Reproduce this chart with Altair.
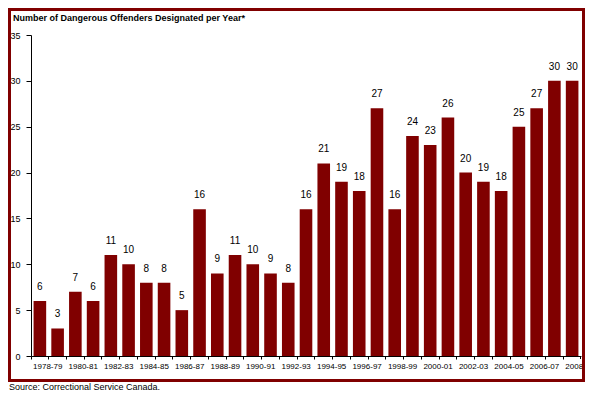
import altair as alt
import pandas as pd

years = ["1978-79", "1979-80", "1980-81", "1981-82", "1982-83", "1983-84", "1984-85",
         "1985-86", "1986-87", "1987-88", "1988-89", "1989-90", "1990-91", "1991-92",
         "1992-93", "1993-94", "1994-95", "1995-96", "1996-97", "1997-98", "1998-99",
         "1999-00", "2000-01", "2001-02", "2002-03", "2003-04", "2004-05", "2005-06",
         "2006-07", "2007-08", "2008-09"]
offenders = [6, 3, 7, 6, 11, 10, 8, 8, 5, 16, 9, 11, 10, 9, 8, 16, 21, 19, 18, 27,
             16, 24, 23, 26, 20, 19, 18, 25, 27, 30, 30]
y_ticks = [0, 5, 10, 15, 20, 25, 30, 35]

title_text = "Number of Dangerous Offenders Designated per Year*"
source_text = "Source: Correctional Service Canada."

df = pd.DataFrame({"year": years, "value": offenders})

W, H = 550, 321
step = W / len(years)
RED = "#800000"
FONT = "Liberation Sans"

x_enc = alt.X("year:N", sort=None, title=None,
              scale=alt.Scale(paddingInner=0, paddingOuter=0),
              axis=alt.Axis(bandPosition=0, labelOffset=step / 2 - 1, labelAngle=0,
                            labelOverlap=False, labelFlush=False,
                            labelExpr="toNumber(substring(datum.value,0,4)) % 2 === 0 ? datum.value : ''",
                            tickSize=3, labelPadding=3, labelFontSize=8,
                            domainColor="black", tickColor="black", labelColor="black",
                            labelFont=FONT))
y_enc = alt.Y("value:Q", title=None,
              scale=alt.Scale(domain=[0, 35], nice=False),
              axis=alt.Axis(values=y_ticks, grid=False, tickSize=5, labelPadding=6,
                            labelFontSize=9, domainColor="black", tickColor="black",
                            labelColor="black", labelFont=FONT))

base = alt.Chart(df)
bars = base.mark_bar(width=alt.RelativeBandSize(0.71), color=RED).encode(x=x_enc, y=y_enc)
labels = base.mark_text(baseline="bottom", dy=-9, fontSize=10, font=FONT, color="black").encode(
    x=alt.X("year:N", sort=None), y="value:Q", text="value:Q")

one = pd.DataFrame({"t": [title_text], "s": [source_text]})
frame = alt.Chart(one).mark_rect(fill=None, stroke=RED, strokeWidth=3).encode(
    x=alt.value(-21.5), x2=alt.value(W + 2.5), y=alt.value(-25.5), y2=alt.value(345.5))
end_tick = alt.Chart(one).mark_rule(color="black", strokeWidth=1).encode(
    x=alt.value(W - 0.5), y=alt.value(H), y2=alt.value(H + 3))
title = alt.Chart(one).mark_text(align="left", baseline="alphabetic", fontSize=9,
                                 fontWeight="bold", font=FONT, color="black").encode(
    x=alt.value(-18), y=alt.value(-14), text="t:N")
source = alt.Chart(one).mark_text(align="left", baseline="alphabetic", fontSize=9,
                                  font=FONT, color="black").encode(
    x=alt.value(-22), y=alt.value(355), text="s:N")

chart = alt.layer(frame, bars, labels, end_tick, title, source).properties(
    width=W, height=H,
    autosize=alt.AutoSizeParams(type="none"),
    padding={"left": 23, "top": 27, "right": 4, "bottom": 35},
).configure_view(stroke=None)

chart.save("out.html", embed_options={"renderer": "svg", "actions": False})
